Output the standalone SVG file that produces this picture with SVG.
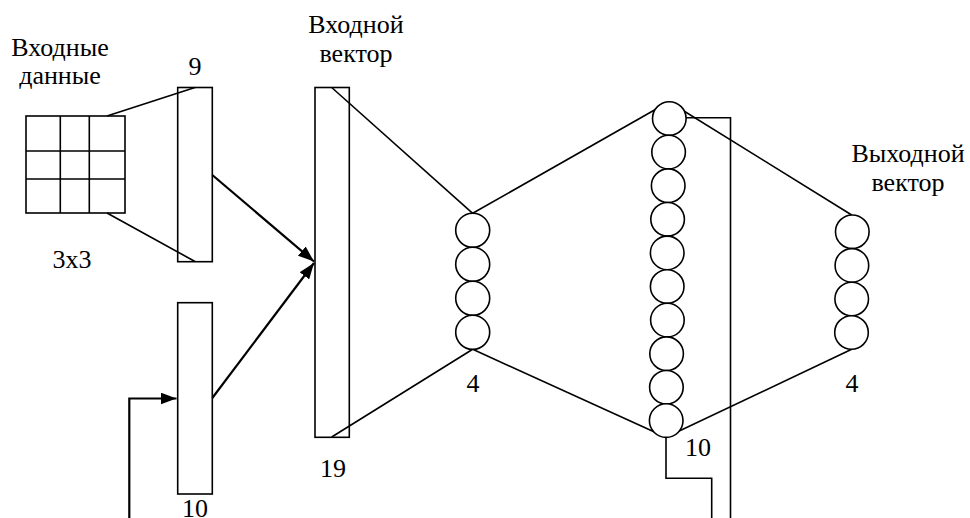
<svg xmlns="http://www.w3.org/2000/svg" width="970" height="518" viewBox="0 0 970 518">
<style>
text{font-family:"Liberation Serif","Times New Roman",Tinos,serif;font-size:26px;fill:#000;text-anchor:middle}
.s{fill:none;stroke:#000;stroke-width:1.6}
.c{fill:#fff;stroke:#000;stroke-width:1.6}
.a{fill:none;stroke:#000;stroke-width:2.2}
</style>
<defs>
<marker id="ah" viewBox="0 0 16 12" refX="16" refY="6" markerWidth="16" markerHeight="12" markerUnits="userSpaceOnUse" orient="auto">
<path d="M0,0 L16,6 L0,12 Z" fill="#000"/>
</marker>
</defs>
<rect width="970" height="518" fill="#fff"/>

<g id="connectors">
<path class="s" d="M107,116 L195,87.5"/>
<path class="s" d="M107,213 L195,261.5"/>
<path class="a" d="M212.3,175 L314,261.5" marker-end="url(#ah)"/>
<path class="a" d="M212.3,398 L314,263" marker-end="url(#ah)"/>
<path class="a" d="M129.3,518 L129.3,398.5 L176.5,398.5" marker-end="url(#ah)"/>
<path class="s" d="M331.7,87.5 L472.7,213.3"/>
<path class="s" d="M331.7,437 L472.7,349.3"/>
<path class="s" d="M472.7,213.3 L669,101.7"/>
<path class="s" d="M472.7,349.3 L666,437.3"/>
<path class="s" d="M669,101.7 L851.7,215"/>
<path class="s" d="M666,437.3 L851.7,349.3"/>
<path class="s" d="M686,117.7 L730.5,117.7 L730.5,518"/>
<path class="s" d="M666,437.3 L666,478.3 L711.7,478.3 L711.7,518"/>
</g>

<g id="input-data">
<rect class="s" x="26" y="116" width="99" height="97"/>
<path class="s" d="M60.3,116 V213 M89.3,116 V213 M26,151 H125 M26,179 H125"/>
<text x="60" y="56">Входные</text>
<text x="60" y="84">данные</text>
<text x="72" y="268">3x3</text>
</g>

<g id="vector9">
<rect class="s" x="177.7" y="87.5" width="34.6" height="174.2"/>
<text x="195" y="75">9</text>
</g>

<g id="vector10">
<rect class="s" x="177.7" y="302.7" width="34.6" height="191.3"/>
<text x="195" y="517">10</text>
</g>

<g id="input-vector">
<rect class="s" x="315" y="87.5" width="34.3" height="349.8"/>
<text x="356" y="33">Входной</text>
<text x="356" y="62">вектор</text>
<text x="333" y="477">19</text>
</g>

<g id="layer4">
<circle class="c" cx="472.7" cy="230.3" r="17"/>
<circle class="c" cx="472.7" cy="264.3" r="17"/>
<circle class="c" cx="472.7" cy="298.3" r="17"/>
<circle class="c" cx="472.7" cy="332.3" r="17"/>
<text x="473" y="392">4</text>
</g>

<g id="layer10">
<circle class="c" cx="669.3" cy="118.5" r="16.8"/>
<circle class="c" cx="668.6" cy="152.1" r="16.8"/>
<circle class="c" cx="668.2" cy="185.7" r="16.8"/>
<circle class="c" cx="667.6" cy="219.3" r="16.8"/>
<circle class="c" cx="667.2" cy="252.9" r="16.8"/>
<circle class="c" cx="667.2" cy="286.5" r="16.8"/>
<circle class="c" cx="667.4" cy="320.1" r="16.8"/>
<circle class="c" cx="666.6" cy="353.7" r="16.8"/>
<circle class="c" cx="666.4" cy="387.3" r="16.8"/>
<circle class="c" cx="666.2" cy="420.6" r="16.8"/>
<text x="698" y="456">10</text>
</g>

<g id="output-layer">
<circle class="c" cx="852.3" cy="231.8" r="16.8"/>
<circle class="c" cx="851.9" cy="265.4" r="16.8"/>
<circle class="c" cx="851.7" cy="299" r="16.8"/>
<circle class="c" cx="851.5" cy="332.5" r="16.8"/>
<text x="908" y="162">Выходной</text>
<text x="908" y="191">вектор</text>
<text x="852" y="392">4</text>
</g>
</svg>
